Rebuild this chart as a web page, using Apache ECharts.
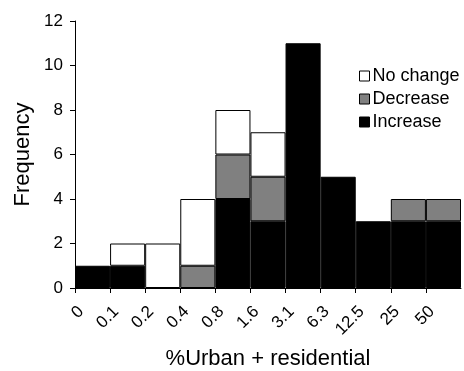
<!DOCTYPE html>
<html>
<head>
<meta charset="utf-8">
<script src="https://cdn.jsdelivr.net/npm/echarts@6/dist/echarts.min.js"></script>
<style>
  html, body { margin: 0; padding: 0; background: #fff; }
  #chart { width: 464px; height: 371px; }
</style>
</head>
<body>
<div id="chart"></div>
<script>
  // bin edges (labels sit on the left edge of each bin)
  var edgeLabels = ['0', '0.1', '0.2', '0.4', '0.8', '1.6', '3.1', '6.3', '12.5', '25', '50'];
  var bins = ['0-0.1', '0.1-0.2', '0.2-0.4', '0.4-0.8', '0.8-1.6', '1.6-3.1', '3.1-6.3', '6.3-12.5', '12.5-25', '25-50', '50+'];

  // counts per bin
  var increase = [1, 1, 0, 0, 4, 3, 11, 5, 3, 3, 3];
  var decrease = [0, 0, 0, 1, 2, 2, 0, 0, 0, 1, 1];
  var noChange = [0, 1, 2, 3, 2, 2, 0, 0, 0, 0, 0];

  var yTicks = [0, 2, 4, 6, 8, 10, 12];

  var font = '"Liberation Sans", Arial, sans-serif';

  function clean(arr) {
    return arr.map(function (v) { return v === 0 ? '-' : v; });
  }

  var myChart = echarts.init(document.getElementById('chart'));

  var barStyle = function (c) {
    return { color: c, borderColor: '#000', borderWidth: 1 };
  };

  var option = {
    backgroundColor: '#fff',
    animation: false,
    grid: { left: 75, right: 3, top: 21, bottom: 83, containLabel: false, outerBoundsMode: 'none' },
    legend: {
      orient: 'vertical',
      left: 354,
      top: 62,
      itemWidth: 10,
      itemHeight: 10,
      itemGap: 5,
      icon: 'rect',
      data: ['No change', 'Decrease', 'Increase'],
      textStyle: { fontFamily: font, fontSize: 18, color: '#000', padding: [0, 0, 0, -2] },
      itemStyle: { borderColor: '#000', borderWidth: 1 }
    },
    xAxis: [
      {
        type: 'category',
        data: bins,
        show: false
      },
      {
        // value axis only used to put ticks + labels on the bin edges
        type: 'value',
        position: 'bottom',
        min: 0,
        max: bins.length,
        interval: 1,
        axisLine: { show: true, lineStyle: { color: '#000', width: 1 } },
        axisTick: { show: true, length: 5, lineStyle: { color: '#000' } },
        splitLine: { show: false },
        axisLabel: {
          rotate: 45,
          margin: 15,
          verticalAlign: 'top',
          fontFamily: font,
          fontSize: 17,
          color: '#000',
          showMaxLabel: false,
          formatter: function (v) { return edgeLabels[v] !== undefined ? edgeLabels[v] : ''; }
        },
        name: '%Urban + residential',
        nameLocation: 'center',
        nameGap: 60,
        nameMoveOverlap: false,
        nameTextStyle: { fontFamily: font, fontSize: 22, color: '#000' }
      }
    ],
    yAxis: {
      type: 'value',
      min: 0,
      max: yTicks[yTicks.length - 1],
      interval: 2,
      axisLine: { show: true, lineStyle: { color: '#000', width: 1 } },
      axisTick: { show: true, length: 5, lineStyle: { color: '#000' } },
      splitLine: { show: false },
      axisLabel: { fontFamily: font, fontSize: 17, color: '#000', margin: 12 },
      name: 'Frequency',
      nameLocation: 'center',
      nameGap: 41,
      nameMoveOverlap: false,
      nameTextStyle: { fontFamily: font, fontSize: 22, color: '#000' }
    },
    series: [
      {
        name: 'Increase', type: 'bar', stack: 'all', xAxisIndex: 0,
        barWidth: '100%', barGap: '0%', barCategoryGap: '0%',
        data: clean(increase), itemStyle: barStyle('#000')
      },
      {
        name: 'Decrease', type: 'bar', stack: 'all', xAxisIndex: 0,
        barWidth: '100%',
        data: clean(decrease), itemStyle: barStyle('#808080')
      },
      {
        name: 'No change', type: 'bar', stack: 'all', xAxisIndex: 0,
        barWidth: '100%',
        data: clean(noChange), itemStyle: barStyle('#fff')
      }
    ]
  };

  myChart.setOption(option);
  window.addEventListener('resize', function () { myChart.resize() });
</script>
</body>
</html>
